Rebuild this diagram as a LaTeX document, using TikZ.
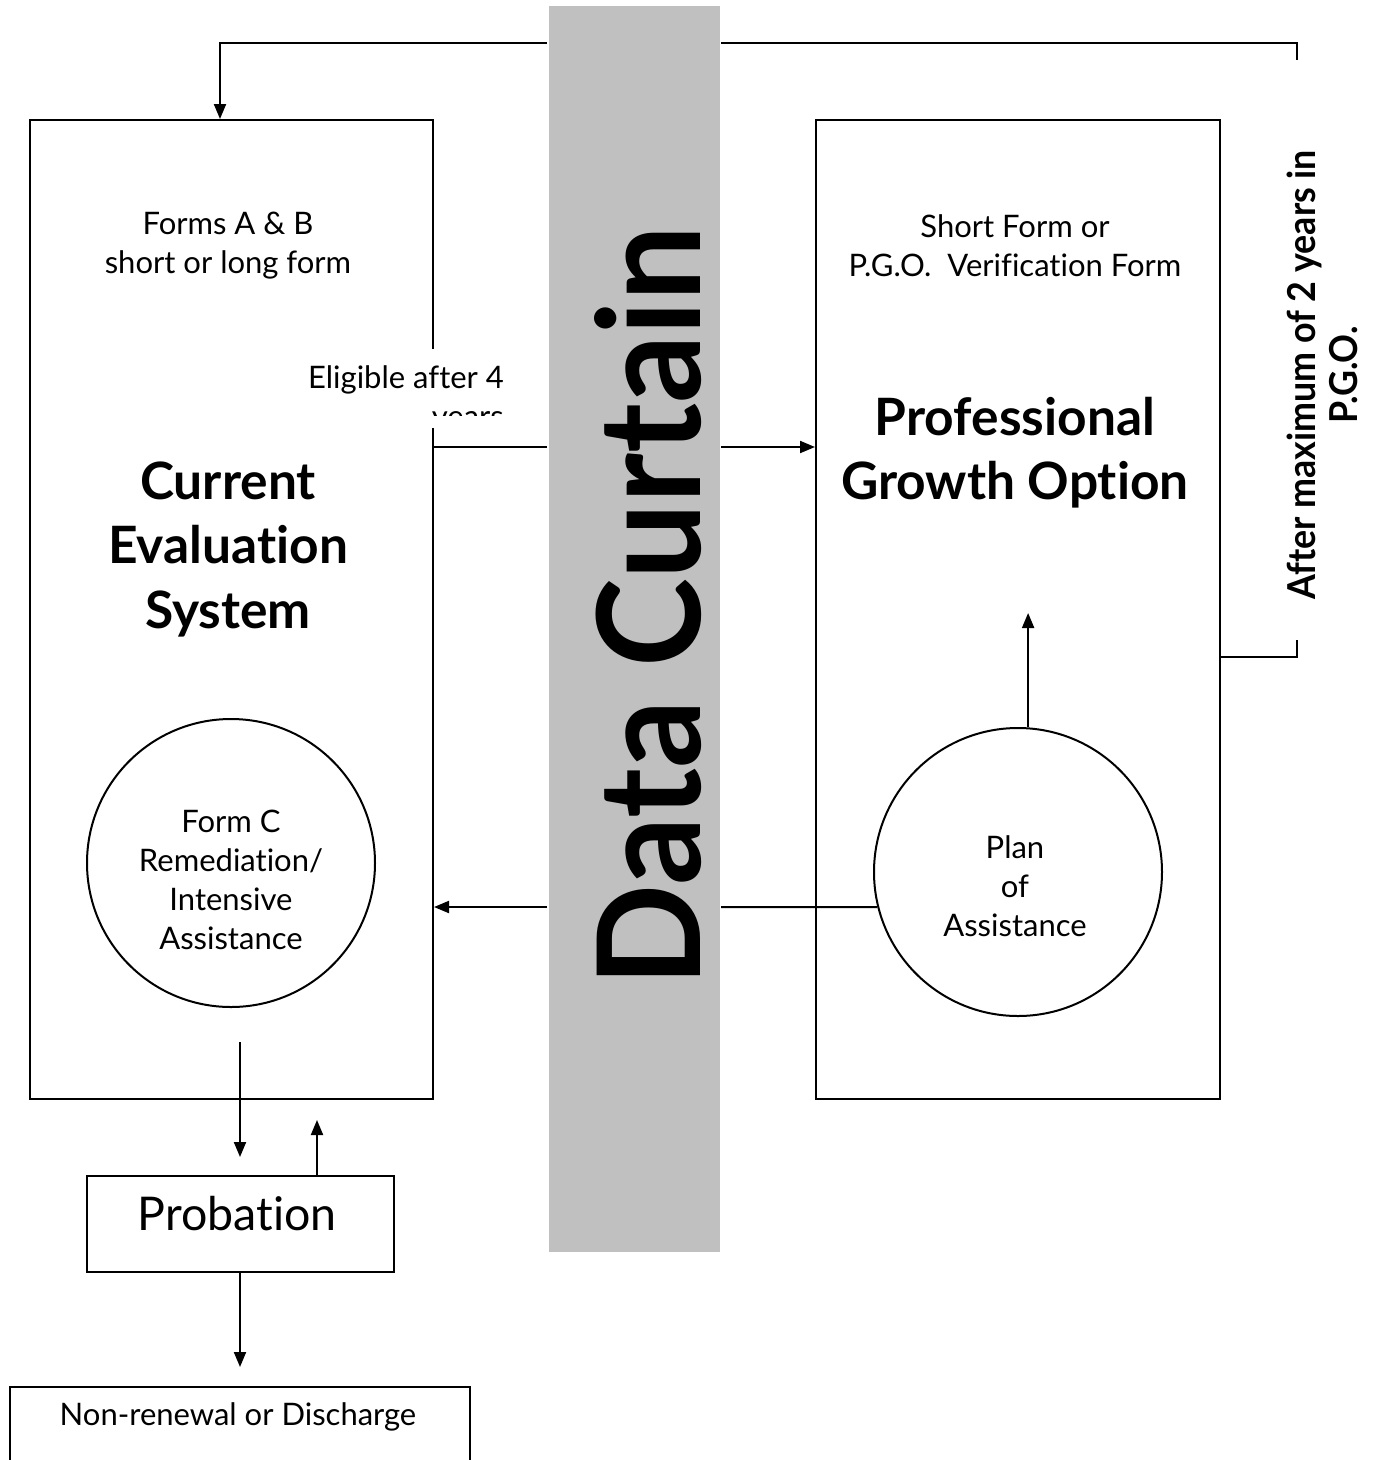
\documentclass[tikz,border=0pt]{standalone}
\usepackage{fontspec}
\usepackage{graphicx}
\setmainfont{Lato}[Ligatures=NoCommon]
\usetikzlibrary{arrows.meta}
\definecolor{curtaingray}{HTML}{C0C0C0}
\tikzset{
  ln/.style={line width=2pt},
  arr/.style={ln,-{Triangle[length=15pt,width=12pt]}},
  boxshape/.style={draw,ln,rectangle,inner sep=0pt},
  circshape/.style={draw,ln,circle,inner sep=0pt,minimum size=288pt},
  smalltxt/.style={align=center,font=\fontsize{31}{39}\selectfont,inner sep=0pt},
  bigtxt/.style={align=center,font=\bfseries\fontsize{51.5}{64.5}\selectfont,inner sep=0pt},
}
\begin{document}
\begin{tikzpicture}[x=1pt,y=-1pt]
\useasboundingbox (0,0) rectangle (1383,1460);
% curtain
\node[fill=curtaingray,inner sep=0pt,minimum width=171pt,minimum height=1246pt] (curtain) at (634,629) {};
\node[rotate=90,anchor=base,inner sep=0pt,font=\bfseries\fontsize{143}{143}\selectfont] (curtaintxt) at (700,606) {\scalebox{0.94}[1]{Data Curtain}};
% boxes
\node[boxshape,minimum width=403pt,minimum height=979pt] (ces) at (231.5,609.5) {};
\node[boxshape,minimum width=404pt,minimum height=979pt] (pgo) at (1018,609.5) {};
\node[circshape] (formc) at (231,863) {};
\node[circshape] (poa) at (1018,872) {};
\node[boxshape,minimum width=307pt,minimum height=96pt] (prob) at (240.5,1224) {};
\node[boxshape,minimum width=460pt,minimum height=100pt] (nr) at (240,1437) {};
% texts
\node[smalltxt] (formsab) at (228,245.5) {Forms A \& B\\short or long form};
\node[bigtxt] (cestxt) at (228,549) {Current\\Evaluation\\System};
\node[smalltxt] (formctxt) at (231,879.5) {Form C\\Remediation/\\Intensive\\Assistance};
\node[smalltxt] (shortform) at (1015,245.5) {Short Form or\\P.G.O.\ \ Verification Form};
\node[bigtxt] (pgotxt) at (1015,452.5) {Professional\\Growth Option};
\node[smalltxt] (poatxt) at (1015,886) {Plan\\of\\Assistance};
\node[inner sep=0pt,font=\fontsize{46.5}{46.5}\selectfont] (probtxt) at (237,1214) {Probation};
\node[smalltxt] (nrtxt) at (238,1417) {Non-renewal or Discharge};
% eligible box (white, covers box edge)
\node[fill=white,inner sep=0pt,minimum width=215pt,minimum height=79pt] (eligbox) at (402.5,388.5) {};
\node[smalltxt,anchor=base east] (eligtxt) at (504,388) {Eligible after 4};
\begin{scope}
\clip (295,349) rectangle (510,415);
\node[smalltxt,anchor=base east] (yearstxt) at (504,427) {years};
\end{scope}
% right vertical label
\node[rotate=90,anchor=base,inner sep=0pt,font=\bfseries\fontsize{38.5}{38.5}\selectfont] (maxtxt1) at (1315,375) {\scalebox{0.93}[1]{After maximum of 2 years in}};
\node[rotate=90,anchor=base,inner sep=0pt,font=\bfseries\fontsize{38.5}{38.5}\selectfont] (maxtxt2) at (1357,375) {\scalebox{0.93}[1]{P.G.O.}};
% connectors
\coordinate (tA) at (547,43);
\coordinate (tB) at (220,43);
\draw[arr] (tA) -- (tB) -- (tB |- ces.north);
\coordinate (tC) at (721,43);
\coordinate (tD) at (1297,43);
\coordinate (tE) at (1297,60);
\draw[ln] (tC) -- (tD) -- (tE);
\coordinate (bA) at (1297,640);
\coordinate (bB) at (1297,657);
\draw[ln] (pgo.east |- bB) -- (bB) -- (bA);
\coordinate (mA) at (547,447);
\draw[ln] (ces.east |- mA) -- (mA);
\coordinate (mB) at (721,447);
\draw[arr] (mB) -- (mB -| pgo.west);
\coordinate (lA) at (721,907);
\draw[ln] (poa.194) -- (lA);
\coordinate (lB) at (547,907);
\draw[arr] (lB) -- (lB -| ces.east);
\coordinate (upT) at (1027,613);
\draw[arr] (poa.86) -- (poa.86 |- upT);
\coordinate (dA) at (240,1042);
\coordinate (dB) at (240,1157);
\draw[arr] (dA) -- (dB);
\coordinate (uA) at (317,1176);
\coordinate (uB) at (317,1120);
\draw[arr] (uA) -- (uB);
\coordinate (pA) at (240,1272);
\coordinate (pB) at (240,1367);
\draw[arr] (pA) -- (pB);
\end{tikzpicture}
\end{document}
